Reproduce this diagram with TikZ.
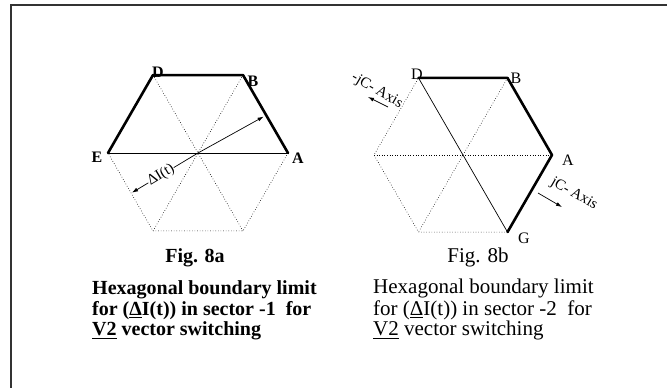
\documentclass[tikz,border=0pt]{standalone}
\usepackage{fontspec}
\setmainfont{Liberation Serif}
\usetikzlibrary{positioning}
\usetikzlibrary{arrows.meta}

\begin{document}
\begin{tikzpicture}[x=1pt,y=1pt,
    bound/.style={line width=2.6pt, line join=round, line cap=round},
    spoke/.style={dotted, line width=0.6pt},
    chord/.style={line width=0.7pt},
    dimline/.style={line width=0.7pt, {Latex[length=6pt,width=4pt]}-{Latex[length=6pt,width=4pt]}},
    axarrow/.style={line width=0.7pt, -{Latex[length=6pt,width=4pt]}},
    vlaba/.style={font=\fontsize{16}{16}\selectfont\bfseries, inner sep=0pt},
    vlabb/.style={font=\fontsize{16}{16}\selectfont, inner sep=0pt},
    capa/.style={font=\fontsize{20}{20}\selectfont\bfseries, inner sep=0pt},
    capb/.style={font=\fontsize{21}{21}\selectfont, inner sep=0pt},
    axlab/.style={font=\fontsize{15}{15}\selectfont, inner sep=0pt}]
    \useasboundingbox (0,0) rectangle (667,388);

    % frame
    \coordinate (fbl) at (11,0);
    \coordinate (ftl) at (11,383);
    \coordinate (ftr) at (667,383);
    \draw[line width=1.2pt, black!80] (fbl) -- (ftl) -- (ftr);

    % Fig. 8a
    \coordinate (c1) at (198,235);
    \coordinate (A1) at ([shift={(0:90)}]c1);
    \coordinate (B1) at ([shift={(60:90)}]c1);
    \coordinate (D1) at ([shift={(120:90)}]c1);
    \coordinate (E1) at ([shift={(180:90)}]c1);
    \coordinate (F1) at ([shift={(240:90)}]c1);
    \coordinate (H1) at ([shift={(300:90)}]c1);
    \draw[spoke] (A1) -- (H1) -- (F1) -- (E1);
    \draw[spoke] (D1) -- (H1);
    \draw[spoke] (B1) -- (F1);
    \draw[chord] (E1) -- (A1);
    \draw[bound] (E1) -- (D1) -- (B1) -- (A1);
    \coordinate (p1) at ([shift={(211:77)}]c1);
    \coordinate (q1) at ([shift={(29:75)}]c1);
    \draw[dimline] (p1) -- (c1) -- (q1);
    \path (p1) -- (c1) node[pos=0.44, sloped, fill=white, inner sep=0.3pt,
        font=\fontsize{15}{15}\selectfont] (di) {ΔI(t)};
    \node[vlaba] (lA1) at (298,230) {A};
    \node[vlaba] (lB1) at (253,307) {B};
    \node[vlaba] (lD1) at (158,316) {D};
    \node[vlaba] (lE1) at (97,231) {E};

    % Fig. 8b
    \coordinate (c2) at (463,233);
    \coordinate (A2) at ([shift={(0:89)}]c2);
    \coordinate (B2) at ([shift={(60:89)}]c2);
    \coordinate (D2) at ([shift={(120:89)}]c2);
    \coordinate (L2) at ([shift={(180:89)}]c2);
    \coordinate (K2) at ([shift={(240:89)}]c2);
    \coordinate (G2) at ([shift={(300:89)}]c2);
    \draw[spoke] (G2) -- (K2) -- (L2) -- (D2);
    \draw[spoke] (L2) -- (A2);
    \draw[spoke] (B2) -- (K2);
    \draw[chord] (D2) -- (G2);
    \draw[bound] (D2) -- (B2) -- (A2) -- (G2);
    \node[vlabb] (lA2) at (568,228) {A};
    \node[vlabb] (lB2) at (516,310) {B};
    \node[vlabb] (lD2) at (417,314) {D};
    \node[vlabb] (lG2) at (524,150) {G};
    \node[axlab, rotate=-30] (jc1) at (377,297) {-jC- Axis};
    \coordinate (jt1) at (388,281);
    \coordinate (jh1) at (368,291);
    \draw[axarrow] (jt1) -- (jh1);
    \node[axlab, rotate=-30] (jc2) at (574,194) {jC- Axis};
    \coordinate (jt2) at (538,195);
    \coordinate (jh2) at (562,181);
    \draw[axarrow] (jt2) -- (jh2);

    % captions
    \node[capa, anchor=base] (fig1) at (195,125) {Fig. 8a};
    \node[capa, anchor=base west] (ca1) at (92,93) {Hexagonal boundary limit};
    \node[capa, anchor=base west] (ca2) at (92,72) {for (\underline{Δ}I(t)) in sector -1\ \ for};
    \node[capa, anchor=base west] (ca3) at (92,52) {\underline{V2} vector switching};
    \node[capb, anchor=base] (fig2) at (478,125) {Fig. 8b};
    \node[capb, anchor=base west] (cb1) at (373,94) {Hexagonal boundary limit};
    \node[capb, anchor=base west] (cb2) at (373,72) {for (\underline{Δ}I(t)) in sector -2\ \ for};
    \node[capb, anchor=base west] (cb3) at (373,52) {\underline{V2} vector switching};
\end{tikzpicture}
\end{document}
